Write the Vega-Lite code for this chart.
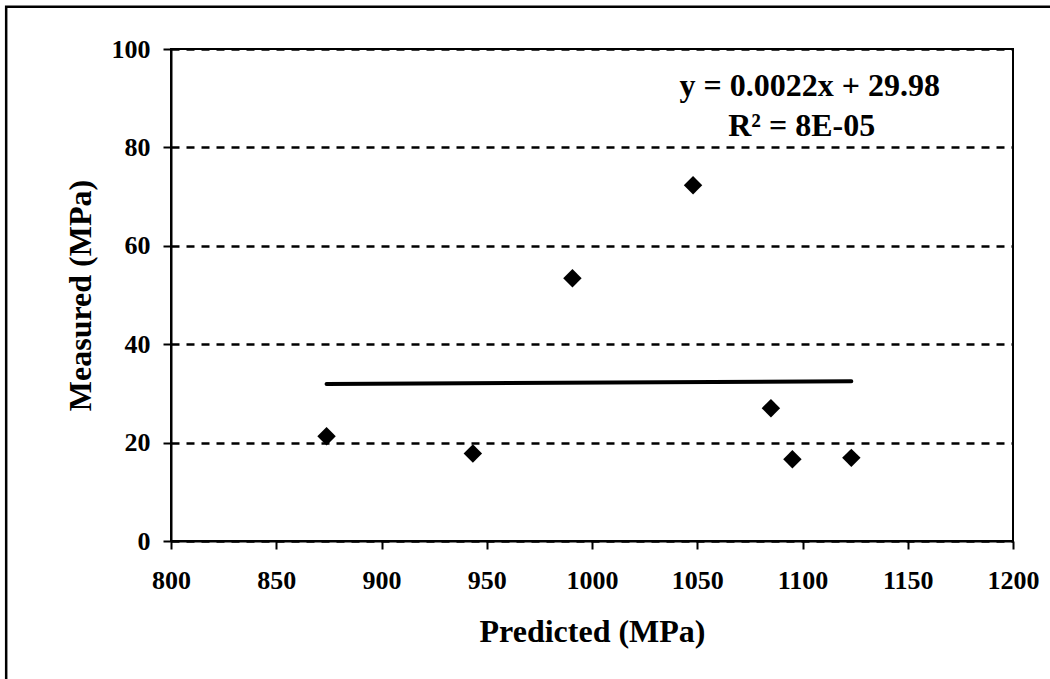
{
  "$schema": "https://vega.github.io/schema/vega-lite/v6.json",
  "width": 842,
  "height": 492,
  "autosize": "none",
  "padding": {"left": 171, "top": 49, "right": 37, "bottom": 138},
  "background": "white",
  "config": {
    "font": "Liberation Serif",
    "view": {"stroke": "black", "strokeWidth": 2},
    "axis": {
      "domainColor": "black",
      "domainWidth": 2,
      "tickColor": "black",
      "tickWidth": 2,
      "tickSize": 8,
      "labelColor": "black",
      "labelFont": "Liberation Serif",
      "labelFontSize": 26,
      "labelFontWeight": "bold",
      "labelFlush": false,
      "labelOverlap": false,
      "titleColor": "black",
      "titleFont": "Liberation Serif",
      "titleFontSize": 32,
      "titleFontWeight": "bold"
    }
  },
  "datasets": {
    "points": [
      {"Predicted": 873.9, "Measured": 21.3},
      {"Predicted": 943.4, "Measured": 17.8},
      {"Predicted": 990.7, "Measured": 53.4},
      {"Predicted": 1048.0, "Measured": 72.3},
      {"Predicted": 1085.0, "Measured": 27.0},
      {"Predicted": 1095.2, "Measured": 16.6},
      {"Predicted": 1123.2, "Measured": 16.9}
    ],
    "trend": [
      {"Predicted": 873.9, "Measured": 31.90},
      {"Predicted": 1123.2, "Measured": 32.45}
    ],
    "labels": [
      {"Predicted": 1103.4, "Measured": 90.5, "label": "y = 0.0022x + 29.98"},
      {"Predicted": 1099.6, "Measured": 82.3, "label": "R² = 8E-05"}
    ],
    "frame": [
      {"x1": 721.7, "x2": 1300, "y1": 108.6, "y2": -40}
    ]
  },
  "layer": [
    {
      "data": {"name": "points"},
      "mark": {"type": "point", "shape": "diamond", "filled": true, "color": "black", "opacity": 1, "size": 340},
      "encoding": {
        "x": {
          "field": "Predicted",
          "type": "quantitative",
          "scale": {"domain": [800, 1200], "nice": false, "zero": false},
          "axis": {
            "title": "Predicted (MPa)",
            "values": [800, 850, 900, 950, 1000, 1050, 1100, 1150, 1200],
            "format": "d",
            "grid": false,
            "labelPadding": 18,
            "titlePadding": 23
          }
        },
        "y": {
          "field": "Measured",
          "type": "quantitative",
          "scale": {"domain": [0, 100], "nice": false},
          "axis": {
            "title": "Measured (MPa)",
            "values": [0, 20, 40, 60, 80, 100],
            "format": "d",
            "grid": true,
            "gridColor": "black",
            "gridWidth": 2.5,
            "gridDash": [8, 7],
            "gridOpacity": 1,
            "labelPadding": 13,
            "titlePadding": 14
          }
        }
      }
    },
    {
      "data": {"name": "trend"},
      "mark": {"type": "line", "color": "black", "strokeWidth": 4, "strokeCap": "round"},
      "encoding": {
        "x": {"field": "Predicted", "type": "quantitative"},
        "y": {"field": "Measured", "type": "quantitative"}
      }
    },
    {
      "data": {"name": "labels"},
      "mark": {"type": "text", "font": "Liberation Serif", "fontSize": 32, "fontWeight": "bold", "color": "black", "align": "center", "baseline": "alphabetic"},
      "encoding": {
        "x": {"field": "Predicted", "type": "quantitative"},
        "y": {"field": "Measured", "type": "quantitative"},
        "text": {"field": "label"}
      }
    },
    {
      "data": {"name": "frame"},
      "mark": {"type": "rect", "fill": null, "fillOpacity": 0, "stroke": "black", "strokeWidth": 2.5, "clip": false},
      "encoding": {
        "x": {"field": "x1", "type": "quantitative"},
        "x2": {"field": "x2"},
        "y": {"field": "y1", "type": "quantitative"},
        "y2": {"field": "y2"}
      }
    }
  ]
}
